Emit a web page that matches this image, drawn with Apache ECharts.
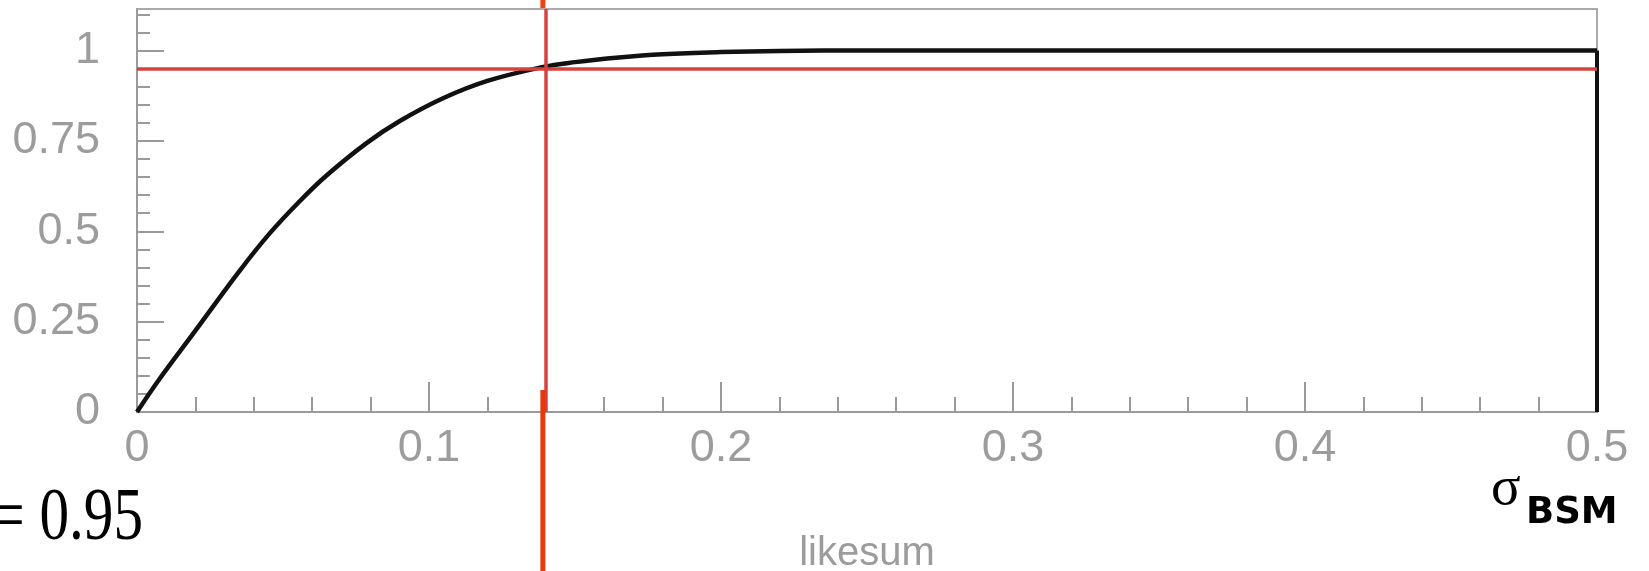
<!DOCTYPE html>
<html>
<head>
<meta charset="utf-8">
<script src="https://cdn.jsdelivr.net/npm/echarts@6/dist/echarts.min.js"></script>
<style>
html, body { margin: 0; padding: 0; background: #fff; }
#main { width: 1649px; height: 571px; }
</style>
</head>
<body>
<div id="main"></div>
<script>
// values
let curveX = [0, 0.0074, 0.02, 0.035, 0.045, 0.0557, 0.065, 0.0786, 0.09, 0.1048, 0.12, 0.1387, 0.15, 0.165, 0.18, 0.2, 0.22, 0.25, 0.3, 0.4, 0.5];
let curveY = [0, 0.088, 0.225, 0.389, 0.49, 0.583, 0.655, 0.744, 0.805, 0.868, 0.916, 0.954, 0.968, 0.981, 0.990, 0.996, 0.999, 1.0, 1.0, 1.0, 1.0];
let dropX = [0.5, 0.5];
let dropY = [1.0, 0];
let yTicks = [0, 0.25, 0.5, 0.75, 1];
let yMinorTicks = [0, 0.05, 0.1, 0.15, 0.2, 0.25, 0.3, 0.35, 0.4, 0.45, 0.5, 0.55, 0.6, 0.65, 0.7, 0.75, 0.8, 0.85, 0.9, 0.95, 1, 1.05, 1.1];
let clLevel = 0.95;
let cutValue = 0.139;

let chartDom = document.getElementById("main");
let chart = echarts.init(chartDom);

let grey = '#9a9a9a';
let labelFont = {
    color: '#9c9c9c',
    fontSize: 45,
    fontFamily: 'Liberation Sans'
};

let option = {
    animation: false,
    grid: {
        left: 137,
        right: 52,
        top: 9,
        bottom: 159,
        outerBoundsMode: 'none',
        containLabel: false,
        show: true,
        borderColor: '#aaaaaa',
        borderWidth: 2
    },
    xAxis: {
        type: 'value',
        min: 0,
        max: 0.5,
        interval: 0.1,
        name: 'likesum',
        nameLocation: 'middle',
        nameGap: 122,
        nameTextStyle: { color: '#9c9c9c', fontSize: 40, fontFamily: 'Liberation Sans' },
        axisLine: { show: true, lineStyle: { color: grey, width: 2 } },
        axisTick: { show: true, inside: true, length: 30, lineStyle: { color: grey, width: 2 } },
        minorTick: { show: true, splitNumber: 5, length: 15, lineStyle: { color: grey, width: 2 } },
        axisLabel: Object.assign({ margin: 14 }, labelFont),
        splitLine: { show: false }
    },
    yAxis: [{
        type: 'value',
        min: 0,
        max: 1.115,
        axisLine: { show: true, lineStyle: { color: grey, width: 2 } },
        axisTick: { show: true, inside: true, length: 27, customValues: yTicks, lineStyle: { color: grey, width: 2 } },
        axisLabel: Object.assign({ margin: 37, customValues: yTicks }, labelFont),
        splitLine: { show: false }
    }, {
        type: 'value',
        min: 0,
        max: 1.115,
        position: 'left',
        axisLine: { show: false },
        axisTick: { show: true, inside: true, length: 13, customValues: yMinorTicks, lineStyle: { color: grey, width: 2 } },
        axisLabel: { show: false },
        splitLine: { show: false }
    }],
    series: [{
        type: 'line',
        data: curveX.map((x, i) => [x, curveY[i]]),
        yAxisIndex: 0,
        showSymbol: false,
        smooth: 0.4,
        lineStyle: { color: '#111', width: 4.5 },
        markLine: {
            silent: true,
            symbol: ['none', 'none'],
            label: { show: false },
            lineStyle: { color: '#d6423f', width: 3.5, type: 'solid' },
            data: [{ yAxis: clLevel }, { xAxis: cutValue }]
        },
        z: 3
    }, {
        type: 'line',
        data: dropX.map((x, i) => [x, dropY[i]]),
        yAxisIndex: 0,
        showSymbol: false,
        lineStyle: { color: '#111', width: 4 },
        z: 3
    }]
};
chart.setOption(option);

// red cut line continues outside the frame
let bottomPt = chart.convertToPixel({ xAxisIndex: 0, yAxisIndex: 0 }, [cutValue, 0]);
let topPt = chart.convertToPixel({ xAxisIndex: 0, yAxisIndex: 0 }, [cutValue, 1.115]);
chart.setOption({
    graphic: [{
        type: 'line',
        shape: { x1: bottomPt[0], y1: bottomPt[1] - 22, x2: bottomPt[0], y2: 571 },
        style: { stroke: '#e8380d', lineWidth: 5 },
        z: 10
    }, {
        type: 'line',
        shape: { x1: topPt[0], y1: 0, x2: topPt[0], y2: topPt[1] - 1 },
        style: { stroke: '#f0400f', lineWidth: 5 },
        z: 10
    }, {
        type: 'text',
        x: 143,
        y: 520,
        scaleX: 0.8,
        style: { text: '= 0.95', fill: '#000', font: '74px "Liberation Serif"', align: 'right', verticalAlign: 'middle' }
    }, {
        type: 'text',
        x: 1491,
        y: 490,
        style: { text: 'σ', fill: '#000', font: '55px "Liberation Serif"', align: 'left', verticalAlign: 'middle' }
    }, {
        type: 'text',
        x: 1526,
        y: 513,
        style: { text: 'BSM', fill: '#000', font: 'bold 37px "DejaVu Sans"', align: 'left', verticalAlign: 'middle' }
    }]
});
</script>
</body>
</html>
